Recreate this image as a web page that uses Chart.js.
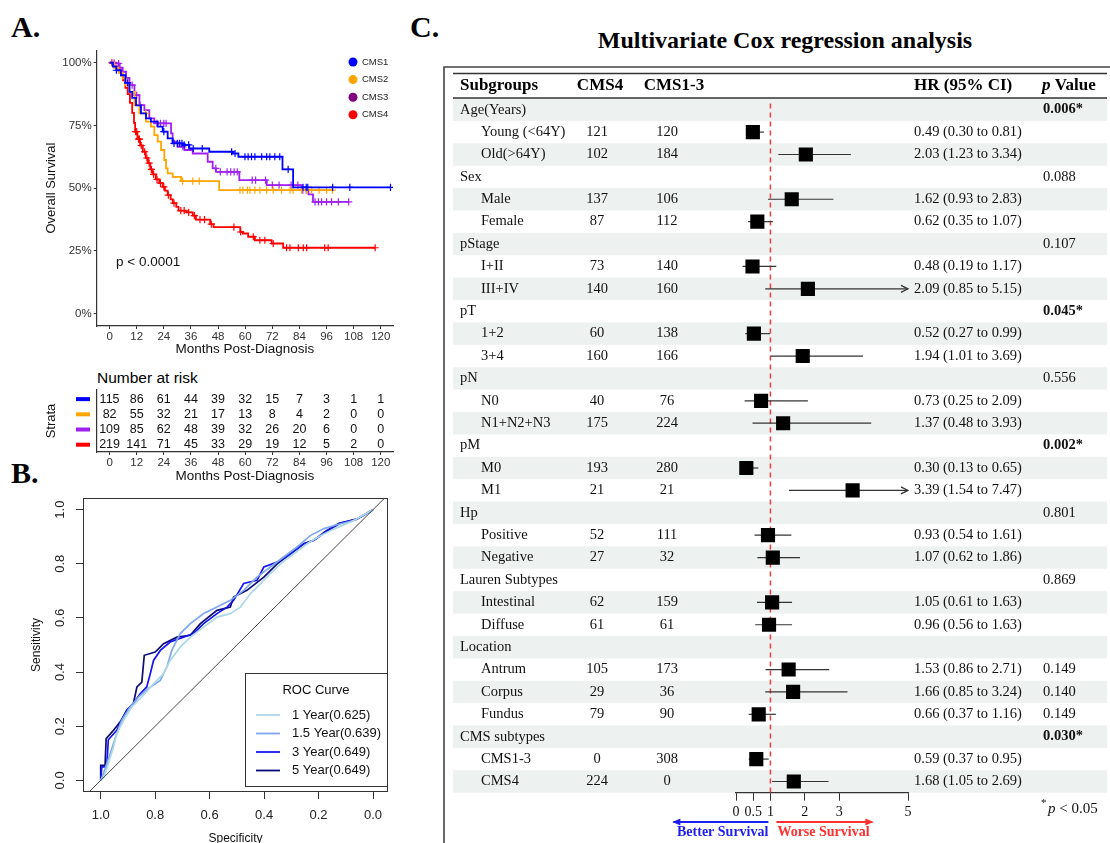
<!DOCTYPE html>
<html><head><meta charset="utf-8">
<script src="https://cdn.jsdelivr.net/npm/chart.js@4.4.1/dist/chart.umd.min.js"></script>
<style>
html,body{margin:0;padding:0;background:#fff;}
body{width:1110px;height:843px;overflow:hidden;position:relative;}
canvas{position:absolute;}
.t{position:absolute;white-space:nowrap;color:#000;}
.pl{font-family:"Liberation Serif","Times New Roman",serif;font-weight:bold;font-size:30px;line-height:30px;}
</style></head><body>
<div class="t pl" style="left:11px;top:12px">A.</div>
<div class="t pl" style="left:11px;top:458px">B.</div>
<div class="t pl" style="left:410px;top:12px">C.</div>
<div class="t" style="left:585px;width:400px;top:27px;text-align:center;font-family:'Liberation Serif','Times New Roman',serif;font-weight:bold;font-size:24px;line-height:26px;">Multivariate Cox regression analysis</div>
<div class="t" style="left:97px;top:369px;font-family:'Liberation Sans',Arial,sans-serif;font-size:15.5px;line-height:18px;">Number at risk</div>
<canvas id="km" width="400" height="330" style="left:0;top:40px"></canvas>
<canvas id="risk" width="400" height="105" style="left:0;top:380px"></canvas>
<canvas id="roc" width="400" height="363" style="left:0;top:480px"></canvas>
<canvas id="forest" width="667" height="783" style="left:443px;top:60px"></canvas>
<script>
const SANS='"Liberation Sans", Arial, sans-serif';
const SERIF='"Liberation Serif", "Times New Roman", serif';

// ---------- Panel A: Kaplan-Meier ----------
const monthTicks=[0,12,24,36,48,60,72,84,96,108,120];
const survTicks=[0,25,50,75,100];
const groupNames=['CMS1','CMS2','CMS3','CMS4'];
const groupColors=['#0000FF','#FFA500','#A020F0','#FF0000'];
const legendDotColors=['#0000FF','#FFA500','#800080','#FF0000'];

const cms1Time=[0,1.5,3,5,7,8.8,10,11.7,13.9,16.1,18.3,21.3,23.5,25.7,27.9,32.4,35.3,44.1,54.5,57,76.5,81.2,124.3];
const cms1Surv=[100,98.5,97,95,92,88.4,86,83,79.8,77.8,76.5,74.5,72.5,69.8,67.8,67.2,65.8,64.5,63.8,62.5,57.5,50.3,50.3];
const cms1Censor=[3,8,24,28.5,30,31,32,33,35,37,41,54,55.5,59.9,61.3,62.8,64.3,67.3,69.5,70.9,73.1,75.3,79,85.6,87,87.7,98.7,106.3,124.3];

const cms2Time=[0,2,4,5.8,7,8.8,11,13.2,16.1,18.3,19.8,21.3,22.8,24.2,25,25.7,27.9,31.6,48.5,98.6];
const cms2Surv=[100,98,96,93.8,91,88.4,83.1,79.8,76.5,74.5,71.1,68.5,65.2,61.2,57.9,55.9,54.5,52.8,49.2,49.2];
const cms2Censor=[16,32.3,36.8,39.7,57.7,59,61,62.1,64.3,66.5,69.5,72.4,76.1,79.8,81.2,85,87.2,89.4,92.7,96,98.6];

const cms3Time=[0,2.9,4.5,5.8,7.3,8.8,11,13.2,15.4,17.6,19.8,27.2,27.9,30.1,33.1,36.8,43.4,45.6,47.1,57.4,69.5,85.2,88,90,105.8];
const cms3Surv=[100,99.7,98,96.4,94,91.1,87.1,83.1,81.1,77.8,75.8,71.8,68.5,66.5,65.2,63.8,60.5,57.9,56.5,53.2,51.2,49.2,47.5,44.5,44.5];
const cms3Censor=[2,4,10,12,13.5,21,22.5,24,25,32.4,47,49,52,53.6,55.1,56.5,63.1,64.6,69,72,75,80.3,83.3,85.5,87,90.9,92.4,93.8,96,98.2,101.2,105.8];

const cms4Time=[0,2,4,5,6,7,8,9,10,10.8,11.3,12.3,13.5,14.7,16,17,18,19,20.5,22,23.5,24.5,25.7,27,28,29.5,30.5,34,36.8,38.2,44.5,46,57.8,59,61.3,64.3,71.7,76.8,117.5];
const cms4Surv=[100,98.5,97,95,93,90,87.5,84,80,76,72.5,69.5,67,64.5,62,60,57.5,55.5,53.5,52,50.5,49,47.2,45.5,44,42.5,41,40.3,39,37.4,35.6,34.4,32.5,31.9,30.6,29.2,27.9,26.2,26.2];
const cms4Censor=[1,11.5,12,12.8,13.2,14,15.5,16.5,17.5,18.5,19.5,21,22.5,24,26,28.5,31.5,33,35,37.5,40,42,45,55,58,63.6,66.5,68.7,72.4,78.3,79.8,83.5,85.7,87.2,95.2,96.7,117.5];

// number at risk
const riskCMS1=[115,86,61,44,39,32,15,7,3,1,1];
const riskCMS2=[82,55,32,21,17,13,8,4,2,0,0];
const riskCMS3=[109,85,62,48,39,32,26,20,6,0,0];
const riskCMS4=[219,141,71,45,33,29,19,12,5,2,0];

// ---------- Panel B: ROC ----------
const rocTicks=[0,0.2,0.4,0.6,0.8,1.0];
const chanceSpec=[1.2,-0.2];
const chanceSens=[-0.2,1.2];
const roc1Spec=[1,0.988,0.972,0.953,0.941,0.916,0.886,0.849,0.806,0.769,0.745,0.708,0.671,0.622,0.573,0.524,0.487,0.450,0.413,0.377,0.340,0.291,0.242,0.19,0.14,0.08,0];
const roc1Sens=[0,0.012,0.062,0.123,0.173,0.222,0.271,0.308,0.357,0.394,0.443,0.492,0.529,0.566,0.603,0.616,0.640,0.690,0.727,0.764,0.800,0.837,0.874,0.905,0.93,0.955,1];
const roc15Spec=[1,0.990,0.965,0.941,0.923,0.892,0.861,0.818,0.781,0.757,0.739,0.708,0.671,0.622,0.573,0.524,0.475,0.426,0.377,0.328,0.279,0.229,0.18,0.13,0.07,0];
const roc15Sens=[0,0.025,0.099,0.173,0.222,0.271,0.308,0.345,0.369,0.419,0.480,0.542,0.579,0.616,0.640,0.665,0.702,0.751,0.788,0.825,0.862,0.905,0.93,0.945,0.96,1];
const roc3Spec=[1,0.996,0.978,0.972,0.941,0.904,0.880,0.855,0.831,0.818,0.806,0.781,0.745,0.696,0.659,0.622,0.573,0.536,0.512,0.475,0.426,0.401,0.352,0.303,0.254,0.217,0.17,0.12,0.06,0];
const roc3Sens=[0,0.05,0.05,0.15,0.185,0.26,0.284,0.32,0.345,0.394,0.443,0.48,0.511,0.529,0.542,0.579,0.616,0.64,0.665,0.727,0.739,0.788,0.806,0.837,0.874,0.887,0.92,0.95,0.965,1];
const roc5Spec=[1,1,0.984,0.98,0.953,0.929,0.904,0.88,0.867,0.849,0.84,0.8,0.769,0.72,0.671,0.634,0.573,0.524,0.512,0.463,0.401,0.352,0.303,0.254,0.217,0.174,0.125,0.06,0];
const roc5Sens=[0,0.055,0.055,0.154,0.185,0.215,0.259,0.284,0.345,0.363,0.462,0.474,0.505,0.529,0.536,0.579,0.628,0.64,0.677,0.702,0.751,0.8,0.837,0.874,0.887,0.92,0.95,0.965,1.0];
const rocLabels=['1 Year(0.625)','1.5 Year(0.639)','3 Year(0.649)','5 Year(0.649)'];
const rocColors=['#ADD8E6','#7FA8EE','#1515F5','#0B0B7A'];

// ---------- Panel C: forest ----------
const rowLabels=['Age(Years)','Young (<64Y)','Old(>64Y)','Sex','Male','Female','pStage','I+II','III+IV','pT','1+2','3+4','pN','N0','N1+N2+N3','pM','M0','M1','Hp','Positive','Negative','Lauren Subtypes','Intestinal','Diffuse','Location','Antrum','Corpus','Fundus','CMS subtypes','CMS1-3','CMS4'];
const nCMS4=[null,121,102,null,137,87,null,73,140,null,60,160,null,40,175,null,193,21,null,52,27,null,62,61,null,105,29,79,null,0,224];
const nCMS13=[null,120,184,null,106,112,null,140,160,null,138,166,null,76,224,null,280,21,null,111,32,null,159,61,null,173,36,90,null,308,0];
const hrVal=[null,0.49,2.03,null,1.62,0.62,null,0.48,2.09,null,0.52,1.94,null,0.73,1.37,null,0.30,3.39,null,0.93,1.07,null,1.05,0.96,null,1.53,1.66,0.66,null,0.59,1.68];
const hrLow=[null,0.30,1.23,null,0.93,0.35,null,0.19,0.85,null,0.27,1.01,null,0.25,0.48,null,0.13,1.54,null,0.54,0.62,null,0.61,0.56,null,0.86,0.85,0.37,null,0.37,1.05];
const hrHigh=[null,0.81,3.34,null,2.83,1.07,null,1.17,5.15,null,0.99,3.69,null,2.09,3.93,null,0.65,7.47,null,1.61,1.86,null,1.63,1.63,null,2.71,3.24,1.16,null,0.95,2.69];
const pValues=['0.006*','','','0.088','','','0.107','','','0.045*','','','0.556','','','0.002*','','','0.801','','','0.869','','','','0.149','0.140','0.149','0.030*','',''];
const hrTicks=[0,0.5,1,2,3,5];
const hrMax=5;

// ================= helpers =================
function survAt(times,survs,t){let s=survs[0];for(let i=0;i<times.length;i++){if(times[i]<=t)s=survs[i];}return s;}

// ================= Panel A chart =================
const kmGroups=[[cms1Time,cms1Surv,cms1Censor],[cms2Time,cms2Surv,cms2Censor],[cms3Time,cms3Surv,cms3Censor],[cms4Time,cms4Surv,cms4Censor]];
const kmDatasets=[];
kmGroups.forEach((g,k)=>{
  kmDatasets.push({label:groupNames[k],data:g[0].map((t,i)=>({x:t,y:g[1][i]})),borderColor:groupColors[k],borderWidth:1.8,stepped:'before',pointRadius:0,fill:false});
  kmDatasets.push({label:groupNames[k]+' censor',data:g[2].map(t=>({x:t,y:survAt(g[0],g[1],t)})),showLine:false,pointStyle:'cross',pointRadius:3.6,pointBorderWidth:1.2,borderColor:groupColors[k],pointBorderColor:groupColors[k],backgroundColor:groupColors[k]});
});
const kmLegendPlugin={id:'kmLegend',afterDraw(chart){
  const ctx=chart.ctx;ctx.save();ctx.font='9.5px '+SANS;ctx.textBaseline='middle';ctx.textAlign='left';
  groupNames.forEach((n,k)=>{const yy=22+k*17.6;ctx.fillStyle=legendDotColors[k];ctx.beginPath();ctx.arc(353,yy,4.5,0,Math.PI*2);ctx.fill();ctx.fillStyle='#222';ctx.fillText(n,362,yy);});
  ctx.fillStyle='#111';ctx.font='13.5px '+SANS;ctx.fillText('p < 0.0001',116,222);
  ctx.restore();}};
new Chart(document.getElementById('km'),{type:'line',data:{datasets:kmDatasets},
 options:{responsive:false,animation:false,devicePixelRatio:1,
  layout:{padding:{top:10.2,right:7,left:0,bottom:0}},
  plugins:{legend:{display:false},tooltip:{enabled:false}},
  scales:{
   x:{type:'linear',min:-5.7,max:125.4,
      afterBuildTicks:s=>{s.ticks=monthTicks.map(v=>({value:v}));},
      afterFit:s=>{s.height=44;},
      grid:{drawOnChartArea:false,tickLength:3,color:'#333'},
      border:{display:true,color:'#333',width:1.2},
      ticks:{autoSkip:false,maxRotation:0,padding:1,color:'#333',font:{family:SANS,size:11.5}},
      title:{display:true,text:'Months Post-Diagnosis',color:'#111',font:{family:SANS,size:13.5},padding:{top:0,bottom:12.9}}},
   y:{type:'linear',min:-5,max:105,
      afterBuildTicks:s=>{s.ticks=survTicks.map(v=>({value:v}));},
      afterFit:s=>{s.width=96.7;},
      grid:{drawOnChartArea:false,tickLength:3,color:'#333'},
      border:{display:true,color:'#333',width:1.2},
      ticks:{padding:2,color:'#333',font:{family:SANS,size:11.5},callback:v=>v+'%'},
      title:{display:true,text:'Overall Survival',color:'#111',font:{family:SANS,size:13},padding:{top:43.5,bottom:0}}}
  }},plugins:[kmLegendPlugin]});

// ================= Risk table =================
const riskRows=[riskCMS1,riskCMS2,riskCMS3,riskCMS4];
const riskPlugin={id:'riskTable',afterDraw(chart){
  const {ctx,scales:{x,y}}=chart;ctx.save();
  ctx.font='12.5px '+SANS;ctx.textAlign='center';ctx.textBaseline='middle';
  riskRows.forEach((row,r)=>{
    const py=y.getPixelForValue(r);
    ctx.fillStyle=groupColors[r];ctx.fillRect(76,py-2,14,4);
    ctx.fillStyle='#111';
    row.forEach((n,i)=>{ctx.fillText(String(n),x.getPixelForValue(monthTicks[i]),py);});
  });
  ctx.restore();}};
new Chart(document.getElementById('risk'),{type:'scatter',data:{datasets:[{data:[]}]},
 options:{responsive:false,animation:false,devicePixelRatio:1,
  layout:{padding:{top:10,right:7,left:0,bottom:0}},
  plugins:{legend:{display:false},tooltip:{enabled:false}},
  scales:{
   x:{type:'linear',min:-5.7,max:125.4,
      afterBuildTicks:s=>{s.ticks=monthTicks.map(v=>({value:v}));},
      afterFit:s=>{s.height=33;},
      grid:{drawOnChartArea:false,tickLength:3,color:'#333'},
      border:{display:true,color:'#333',width:1.2},
      ticks:{autoSkip:false,maxRotation:0,padding:1,color:'#333',font:{family:SANS,size:11.5}},
      title:{display:true,text:'Months Post-Diagnosis',color:'#111',font:{family:SANS,size:13.5},padding:{top:0,bottom:0.5}}},
   y:{type:'linear',min:-0.6,max:3.48,reverse:true,
      afterFit:s=>{s.width=96.7;},
      grid:{display:false},
      border:{display:true,color:'#333',width:1.2},
      ticks:{display:false},
      title:{display:true,text:'Strata',color:'#111',font:{family:SANS,size:13},padding:{top:43.5,bottom:0}}}
  }},plugins:[riskPlugin]});

// ================= Panel B chart =================
const rocSpecs=[roc1Spec,roc15Spec,roc3Spec,roc5Spec];
const rocSenss=[roc1Sens,roc15Sens,roc3Sens,roc5Sens];
const rocDatasets=[{data:chanceSpec.map((v,i)=>({x:v,y:chanceSens[i]})),borderColor:'#333',borderWidth:0.9,pointRadius:0}];
rocSpecs.forEach((sp,k)=>{rocDatasets.push({label:rocLabels[k],data:sp.map((v,i)=>({x:v,y:rocSenss[k][i]})),borderColor:rocColors[k],borderWidth:1.7,pointRadius:0,tension:0});});
const rocPlugin={id:'rocBox',afterDraw(chart){
  const {ctx,chartArea:ca}=chart;ctx.save();
  ctx.strokeStyle='#333';ctx.lineWidth=1;ctx.strokeRect(ca.left+0.5,ca.top+0.5,ca.right-ca.left-1,ca.bottom-ca.top-1);
  // legend
  ctx.fillStyle='#fff';ctx.fillRect(245,193,143,114);
  ctx.strokeRect(245.5,193.5,142,113);
  ctx.fillStyle='#111';ctx.font='13px '+SANS;ctx.textBaseline='middle';ctx.textAlign='center';
  ctx.fillText('ROC Curve',316,210);
  ctx.textAlign='left';
  rocLabels.forEach((l,k)=>{const yy=235+k*18.5;ctx.strokeStyle=rocColors[k];ctx.lineWidth=1.8;ctx.beginPath();ctx.moveTo(256,yy);ctx.lineTo(280,yy);ctx.stroke();ctx.fillText(l,292,yy);});
  ctx.restore();}};
new Chart(document.getElementById('roc'),{type:'line',data:{datasets:rocDatasets},
 options:{responsive:false,animation:false,devicePixelRatio:1,
  layout:{padding:{top:18,right:12,left:0,bottom:0}},
  plugins:{legend:{display:false},tooltip:{enabled:false}},
  scales:{
   x:{type:'linear',reverse:true,min:-0.055,max:1.065,
      afterBuildTicks:s=>{s.ticks=rocTicks.map(v=>({value:v}));},
      afterFit:s=>{s.height=51;},
      grid:{drawOnChartArea:false,tickLength:7,color:'#333'},
      border:{display:false},
      ticks:{autoSkip:false,maxRotation:0,padding:8.5,color:'#222',font:{family:SANS,size:13},callback:v=>Number(v).toFixed(1)},
      title:{display:true,text:'Specificity',color:'#111',font:{family:SANS,size:12},padding:{top:0,bottom:-3}}},
   y:{type:'linear',min:-0.043,max:1.043,
      afterBuildTicks:s=>{s.ticks=rocTicks.map(v=>({value:v}));},
      afterFit:s=>{s.width=83;},
      grid:{drawOnChartArea:false,tickLength:7,color:'#333'},
      border:{display:false},
      ticks:{minRotation:90,maxRotation:90,crossAlign:'center',padding:7,color:'#222',font:{family:SANS,size:13},callback:v=>Number(v).toFixed(1)},
      title:{display:true,text:'Sensitivity',color:'#111',font:{family:SANS,size:12},padding:{top:29.5,bottom:0}}}
  }},plugins:[rocPlugin]});

// ================= Panel C chart =================
function fmt2(v){return v.toFixed(2);}
const forestPlugin={id:'forest',
 beforeDraw(chart){
  const {ctx,scales:{y}}=chart;ctx.save();
  ctx.fillStyle='#EDF1F0';
  rowLabels.forEach((l,i)=>{if(i%2===0){const y0=y.getPixelForValue(i-0.5),y1=y.getPixelForValue(i+0.5);ctx.fillRect(10,y0,654,y1-y0);}});
  ctx.strokeStyle='#444';ctx.lineWidth=1.6;
  ctx.beginPath();ctx.moveTo(1,783);ctx.lineTo(1,7);ctx.lineTo(667,7);ctx.stroke();
  ctx.strokeStyle='#333';ctx.lineWidth=1.4;
  ctx.beginPath();ctx.moveTo(10,13.5);ctx.lineTo(664,13.5);ctx.moveTo(10,38);ctx.lineTo(664,38);ctx.stroke();
  ctx.restore();
 },
 beforeDatasetsDraw(chart){
  const {ctx,scales:{x,y},chartArea:ca}=chart;ctx.save();
  ctx.strokeStyle='#EE4040';ctx.lineWidth=1.5;ctx.setLineDash([5,4]);
  ctx.beginPath();ctx.moveTo(x.getPixelForValue(1),ca.top+5);ctx.lineTo(x.getPixelForValue(1),ca.bottom);ctx.stroke();
  ctx.setLineDash([]);
  ctx.strokeStyle='#333';ctx.lineWidth=1.2;
  hrVal.forEach((h,i)=>{
    if(h===null)return;
    const py=y.getPixelForValue(i);
    const x0=x.getPixelForValue(hrLow[i]);
    const x1=x.getPixelForValue(Math.min(hrHigh[i],hrMax));
    ctx.beginPath();ctx.moveTo(x0,py);ctx.lineTo(x1,py);ctx.stroke();
    if(hrHigh[i]>hrMax){ctx.beginPath();ctx.moveTo(x1-7,py-3.5);ctx.lineTo(x1,py);ctx.lineTo(x1-7,py+3.5);ctx.stroke();}
  });
  ctx.restore();
 },
 afterDraw(chart){
  const {ctx,scales:{x,y}}=chart;ctx.save();
  ctx.fillStyle='#000';ctx.textBaseline='middle';
  ctx.font='bold 17px '+SERIF;ctx.textAlign='left';ctx.fillText('Subgroups',17,26);
  ctx.textAlign='center';ctx.fillText('CMS4',157,26);ctx.fillText('CMS1-3',231,26);
  ctx.textAlign='left';ctx.fillText('HR (95% CI)',471,26);
  ctx.font='italic bold 17px '+SERIF;ctx.fillText('p',599,26);
  const pw=ctx.measureText('p').width;
  ctx.font='bold 17px '+SERIF;ctx.fillText(' Value',599+pw,26);
  rowLabels.forEach((lab,i)=>{
    const py=y.getPixelForValue(i);
    const isHead=nCMS4[i]===null;
    ctx.font='14.5px '+SERIF;ctx.textAlign='left';ctx.fillStyle='#111';
    ctx.fillText(lab,isHead?17:38,py);
    if(!isHead){
      ctx.textAlign='center';ctx.fillText(String(nCMS4[i]),154,py);ctx.fillText(String(nCMS13[i]),224,py);
      ctx.textAlign='left';ctx.fillText(fmt2(hrVal[i])+' ('+fmt2(hrLow[i])+' to '+fmt2(hrHigh[i])+')',471,py);
    }
    if(pValues[i]){ctx.textAlign='left';ctx.font=(pValues[i].indexOf('*')>=0?'bold ':'')+'14.5px '+SERIF;ctx.fillText(pValues[i],600,py);}
  });
  ctx.textAlign='left';ctx.font='11px '+SERIF;ctx.fillText('*',598,743);
  ctx.font='italic 15px '+SERIF;ctx.fillText('p',605,749);
  const pw2=ctx.measureText('p').width;
  ctx.font='15px '+SERIF;ctx.fillText(' < 0.05',605+pw2,749);
  const x1=x.getPixelForValue(1);
  ctx.lineWidth=1.8;
  ctx.strokeStyle='#1E1EF0';ctx.fillStyle='#1E1EF0';
  ctx.beginPath();ctx.moveTo(x1-2,762);ctx.lineTo(x1-97,762);ctx.stroke();
  ctx.beginPath();ctx.moveTo(x1-98,762);ctx.lineTo(x1-90,758.5);ctx.lineTo(x1-90,765.5);ctx.closePath();ctx.fill();
  ctx.font='bold 14px '+SERIF;ctx.textAlign='right';ctx.fillText('Better Survival',x1-2,772);
  ctx.strokeStyle='#FF3030';ctx.fillStyle='#FF3030';
  ctx.beginPath();ctx.moveTo(x1+6,762);ctx.lineTo(x1+102,762);ctx.stroke();
  ctx.beginPath();ctx.moveTo(x1+103,762);ctx.lineTo(x1+95,758.5);ctx.lineTo(x1+95,765.5);ctx.closePath();ctx.fill();
  ctx.textAlign='left';ctx.fillText('Worse Survival',x1+7,772);
  ctx.restore();
 }};
const forestPoints=[];
hrVal.forEach((h,i)=>{if(h!==null)forestPoints.push({x:h,y:i});});
new Chart(document.getElementById('forest'),{type:'scatter',
 data:{datasets:[{data:forestPoints,pointStyle:'rect',pointRadius:10,backgroundColor:'#000',borderColor:'#000',borderWidth:0}]},
 options:{responsive:false,animation:false,devicePixelRatio:1,
  layout:{padding:{top:38.5,right:202,left:293,bottom:0}},
  plugins:{legend:{display:false},tooltip:{enabled:false}},
  scales:{
   x:{type:'linear',min:0,max:hrMax,
      afterBuildTicks:s=>{s.ticks=hrTicks.map(v=>({value:v}));},
      afterFit:s=>{s.height=50.3;},
      grid:{drawOnChartArea:false,tickLength:8,color:'#333'},
      border:{display:true,color:'#333',width:1.2},
      ticks:{autoSkip:false,maxRotation:0,padding:3,color:'#111',font:{family:SERIF,size:14},callback:v=>String(v)}},
   y:{type:'linear',min:-0.5,max:30.5,reverse:true,display:false}
  }},plugins:[forestPlugin]});
</script>
</body></html>
